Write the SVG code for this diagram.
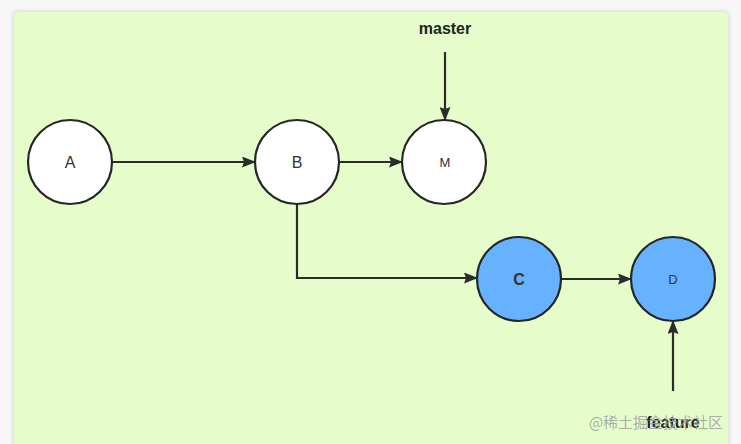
<svg xmlns="http://www.w3.org/2000/svg" width="741" height="444" viewBox="0 0 741 444">
<defs>
<marker id="ah" markerWidth="14" markerHeight="11" refX="13" refY="5.5" orient="auto" markerUnits="userSpaceOnUse" viewBox="0 0 14 11">
<path d="M0,0 L14,5.5 L0,11 L2,5.5 Z" fill="#2b2b2b"/>
</marker>
<filter id="sh" x="-5%" y="-5%" width="110%" height="110%"><feGaussianBlur stdDeviation="2"/></filter>
</defs>
<style>
.node{stroke:#262626;stroke-width:2.2}
.w{fill:#ffffff}
.b{fill:#66b2ff}
.lbl{font-family:"Liberation Sans",Arial,sans-serif;fill:#333;text-anchor:middle}
.edge{stroke:#2b2b2b;stroke-width:2.2;fill:none;marker-end:url(#ah)}
.tag{font-family:"Liberation Sans",Arial,sans-serif;font-size:16px;font-weight:bold;fill:#222;text-anchor:middle}
</style>
<rect width="741" height="444" fill="#f7f7f7"/>
<rect x="13" y="11" width="716" height="440" rx="4" fill="#d8d8d8" filter="url(#sh)"/>
<rect x="14" y="12" width="714" height="440" rx="4" fill="#e6fdcb"/>
<g id="connectors">
<line class="edge" x1="112" y1="162" x2="255" y2="162"/>
<line class="edge" x1="339" y1="162" x2="402" y2="162"/>
<line class="edge" x1="445" y1="52" x2="445" y2="120"/>
<polyline class="edge" points="297,204 297,278 477,278"/>
<line class="edge" x1="561" y1="279" x2="631" y2="279"/>
<line class="edge" x1="673" y1="391" x2="673" y2="321"/>
</g>
<g id="A"><circle class="node w" cx="70" cy="162" r="42"/><text class="lbl" x="70" y="168" font-size="16">A</text></g>
<g id="B"><circle class="node w" cx="297" cy="162" r="42"/><text class="lbl" x="297" y="168" font-size="16">B</text></g>
<g id="M"><circle class="node w" cx="444" cy="162" r="42"/><text class="lbl" x="445" y="167" font-size="13">M</text></g>
<g id="C"><circle class="node b" cx="519" cy="279" r="42"/><text class="lbl" x="519" y="285" font-size="16" font-weight="bold">C</text></g>
<g id="D"><circle class="node b" cx="673" cy="279" r="42"/><text class="lbl" x="673" y="284" font-size="13">D</text></g>
<g id="master"><text class="tag" x="445" y="34">master</text></g>
<g id="feature"><text class="tag" x="673" y="428">feature</text></g>
<text x="656" y="428" font-family="'Noto Sans CJK SC',sans-serif" font-size="15" fill="#a0a0a0" fill-opacity="0.85" text-anchor="middle">@稀土掘金技术社区</text>
</svg>
